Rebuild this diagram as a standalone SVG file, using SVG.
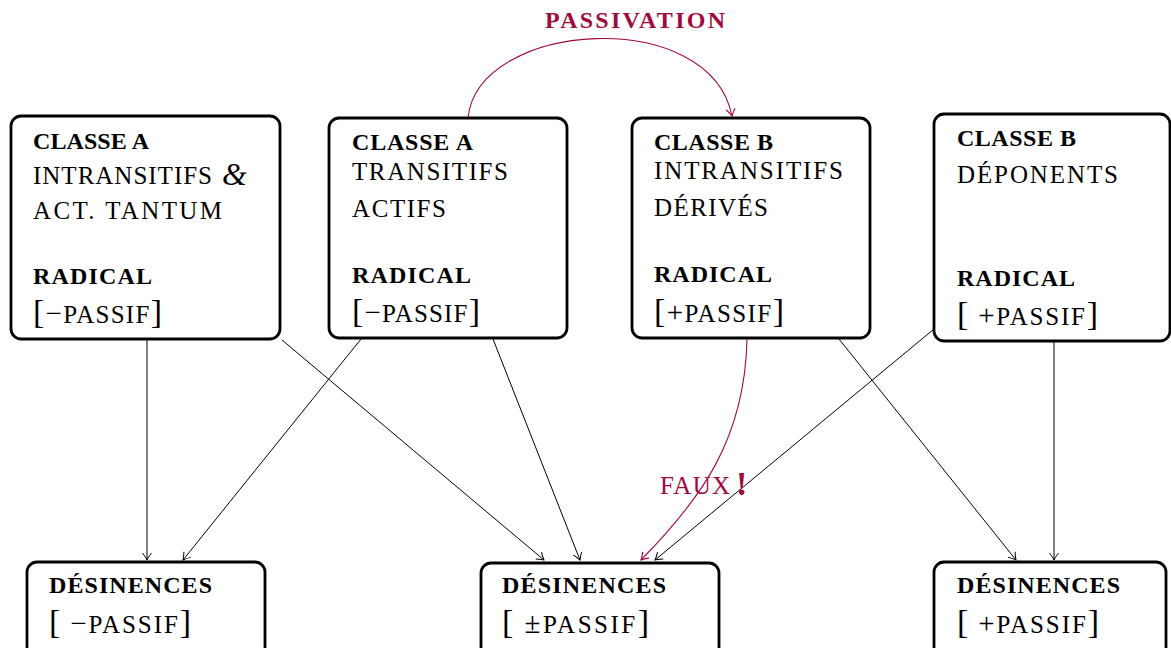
<svg xmlns="http://www.w3.org/2000/svg" width="1171" height="648" viewBox="0 0 1171 648">
<defs>
<style>
.box{fill:#fff;stroke:#000;stroke-width:2.8}
.t{font-family:"Liberation Serif","Times New Roman",serif;font-size:25px;fill:#000}
.b{font-weight:bold;font-size:24px}
.br{font-size:34px;font-weight:normal}
.m{font-size:29px}
.red{fill:#9e0b3f}
.c{fill:none;stroke:#000;stroke-width:1}
.cr{fill:none;stroke:#9e0b3f;stroke-width:1.1}
</style>
<marker id="ah" viewBox="-10 -6 12 12" refX="0" refY="0" markerWidth="12" markerHeight="12" markerUnits="userSpaceOnUse" orient="auto">
<path d="M-7,-4.5 C-4,-2 -1,-0.6 0,0 C-1,0.6 -4,2 -7,4.5" fill="none" stroke="#000" stroke-width="1"/>
</marker>
<marker id="ahr" viewBox="-10 -6 12 12" refX="0" refY="0" markerWidth="12" markerHeight="12" markerUnits="userSpaceOnUse" orient="auto">
<path d="M-7,-4.5 C-4,-2 -1,-0.6 0,0 C-1,0.6 -4,2 -7,4.5" fill="none" stroke="#9e0b3f" stroke-width="1.1"/>
</marker>
</defs>
<rect width="1171" height="648" fill="#fff"/>

<g id="connectors">
<line class="c" x1="147" y1="340" x2="147" y2="560" marker-end="url(#ah)"/>
<line class="c" x1="361" y1="339" x2="183" y2="560" marker-end="url(#ah)"/>
<line class="c" x1="282" y1="340" x2="544" y2="560" marker-end="url(#ah)"/>
<line class="c" x1="493" y1="339" x2="580" y2="560" marker-end="url(#ah)"/>
<line class="c" x1="934" y1="329" x2="655" y2="560" marker-end="url(#ah)"/>
<line class="c" x1="839" y1="339" x2="1016" y2="560" marker-end="url(#ah)"/>
<line class="c" x1="1054" y1="342" x2="1054" y2="560" marker-end="url(#ah)"/>
<path class="cr" d="M747,339 C745,440 700,500 641,560" marker-end="url(#ahr)"/>
<path class="cr" d="M468,118 C478,20 710,5 732,116" marker-end="url(#ahr)"/>
</g>

<g id="label-passivation">
<text class="t b red" x="545" y="28" font-size="22" textLength="180" lengthAdjust="spacing">PASSIVATION</text>
</g>
<g id="label-faux">
<text class="t red" x="660" y="494" textLength="70" lengthAdjust="spacing">FAUX</text>
<text class="t b red" x="736" y="495" style="font-size:34px">!</text>
</g>

<g id="n1">
<rect class="box" x="11" y="116" width="269" height="223" rx="10"/>
<text class="t b" x="33" y="149" textLength="116" lengthAdjust="spacing">CLASSE A</text>
<text class="t" x="33" y="184" textLength="179" lengthAdjust="spacing">INTRANSITIFS</text>
<text class="t" x="222" y="185" font-style="italic" style="font-size:32px">&amp;</text>
<text class="t" x="33" y="219" textLength="189" lengthAdjust="spacing">ACT. TANTUM</text>
<text class="t b" x="33" y="284" textLength="119" lengthAdjust="spacing">RADICAL</text>
<text class="t" x="33" y="323" textLength="129" lengthAdjust="spacing"><tspan class="br">[</tspan><tspan class="m">−</tspan>PASSIF<tspan class="br">]</tspan></text>
</g>

<g id="n2">
<rect class="box" x="329" y="118" width="238" height="220" rx="10"/>
<text class="t b" x="352" y="150" textLength="121" lengthAdjust="spacing">CLASSE  A</text>
<text class="t" x="352" y="180" textLength="156" lengthAdjust="spacing">TRANSITIFS</text>
<text class="t" x="352" y="217" textLength="94" lengthAdjust="spacing">ACTIFS</text>
<text class="t b" x="352" y="283" textLength="119" lengthAdjust="spacing">RADICAL</text>
<text class="t" x="352" y="322" textLength="128" lengthAdjust="spacing"><tspan class="br">[</tspan><tspan class="m">−</tspan>PASSIF<tspan class="br">]</tspan></text>
</g>

<g id="n3">
<rect class="box" x="632" y="118" width="238" height="220" rx="10"/>
<text class="t b" x="654" y="150" textLength="119" lengthAdjust="spacing">CLASSE  B</text>
<text class="t" x="654" y="179" textLength="189" lengthAdjust="spacing">INTRANSITIFS</text>
<text class="t" x="654" y="216" textLength="114" lengthAdjust="spacing">DÉRIVÉS</text>
<text class="t b" x="654" y="282" textLength="118" lengthAdjust="spacing">RADICAL</text>
<text class="t" x="654" y="322" textLength="130" lengthAdjust="spacing"><tspan class="br">[</tspan><tspan class="m">+</tspan>PASSIF<tspan class="br">]</tspan></text>
</g>

<g id="n4">
<rect class="box" x="934" y="114" width="236" height="227" rx="10"/>
<text class="t b" x="957" y="146" textLength="119" lengthAdjust="spacing">CLASSE  B</text>
<text class="t" x="957" y="183" textLength="161" lengthAdjust="spacing">DÉPONENTS</text>
<text class="t b" x="957" y="286" textLength="118" lengthAdjust="spacing">RADICAL</text>
<text class="t" x="957" y="325" textLength="141" lengthAdjust="spacing"><tspan class="br">[</tspan> <tspan class="m">+</tspan>PASSIF<tspan class="br">]</tspan></text>
</g>

<g id="n5">
<rect class="box" x="27" y="562" width="238" height="110" rx="10"/>
<text class="t b" x="49" y="593" textLength="163" lengthAdjust="spacing">DÉSINENCES</text>
<text class="t" x="49" y="633" textLength="142" lengthAdjust="spacing"><tspan class="br">[</tspan> <tspan class="m">−</tspan>PASSIF<tspan class="br">]</tspan></text>
</g>

<g id="n6">
<rect class="box" x="481" y="563" width="238" height="110" rx="10"/>
<text class="t b" x="502" y="593" textLength="164" lengthAdjust="spacing">DÉSINENCES</text>
<text class="t" x="502" y="633" textLength="147" lengthAdjust="spacing"><tspan class="br">[</tspan> <tspan class="m">±</tspan>PASSIF<tspan class="br">]</tspan></text>
</g>

<g id="n7">
<rect class="box" x="934" y="562" width="232" height="110" rx="10"/>
<text class="t b" x="957" y="593" textLength="163" lengthAdjust="spacing">DÉSINENCES</text>
<text class="t" x="957" y="633" textLength="142" lengthAdjust="spacing"><tspan class="br">[</tspan> <tspan class="m">+</tspan>PASSIF<tspan class="br">]</tspan></text>
</g>
</svg>
